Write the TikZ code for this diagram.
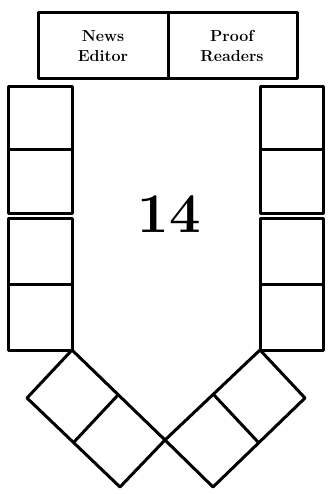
\documentclass[tikz,border=0pt]{standalone}
\begin{document}
\begin{tikzpicture}[x=1pt,y=-1pt,line join=round,
  wall/.style={draw=black,line width=3pt},
  lbl/.style={font=\bfseries\fontsize{16}{20}\selectfont,align=center,inner sep=0pt}]
\useasboundingbox[fill=white] (0,0) rectangle (327,494);
% top desk
\draw[wall] (38,13) rectangle (297,79);
\draw[wall] (168,13) -- (168,79);
\node[lbl] (news) at (103,46) {News\\Editor};
\node[lbl] (proof) at (232,46) {Proof\\Readers};
% left column
\draw[wall] (8,87) rectangle (72,213);
\draw[wall] (8,150) -- (72,150);
\draw[wall] (8,218) rectangle (72,350);
\draw[wall] (8,284) -- (72,284);
% right column
\draw[wall] (260,87) rectangle (323,213);
\draw[wall] (260,150) -- (323,150);
\draw[wall] (260,218) rectangle (323,350);
\draw[wall] (260,284) -- (323,284);
% bottom desks
\draw[wall] (72,350) -- (165,440) -- (120,487) -- (27,398) -- cycle;
\draw[wall] (118,395) -- (74,442);
\draw[wall] (260,350) -- (305,398) -- (213,487) -- (165,440) -- cycle;
\draw[wall] (214,395) -- (258,442);
% number
\node[font=\bfseries\fontsize{56}{56}\selectfont,inner sep=0pt] (num) at (169,214) {14};
\end{tikzpicture}
\end{document}
